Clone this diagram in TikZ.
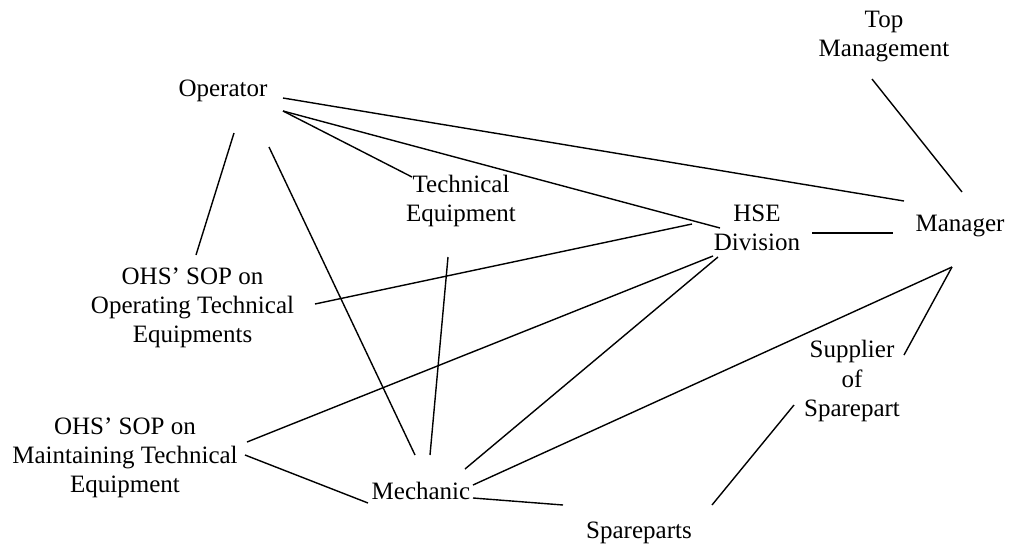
\documentclass[tikz,border=0pt]{standalone}
\usepackage{fontspec}
\setmainfont{Liberation Serif}
\begin{document}
\begin{tikzpicture}[x=0.5pt,y=-0.5pt,
  label/.style={inner sep=0pt, align=center, font={\fontsize{12.5pt}{14.6pt}\selectfont}},
  link/.style={line width=0.7pt, black}]
\useasboundingbox (0,0) rectangle (1009,547);

% actors and documents
\node[label] (top)   at (884,36.5) {Top\\Management};
\node[label] (op)    at (223,91)   {Operator};
\node[label] (te)    at (461,201)  {Technical\\Equipment};
\node[label] (hse)   at (757,228)  {HSE\\Division};
\node[label] (man)   at (960,226)  {Manager};
\node[label] (sopop) at (192.5,308) {OHS’ SOP on\\Operating Technical\\Equipments};
\node[label] (sopmt) at (125,458)  {OHS’ SOP on\\Maintaining Technical\\Equipment};
\node[label] (mech)  at (421,491)  {Mechanic};
\node[label] (spare) at (639,533)  {Spareparts};
\node[label] (sup)   at (852,381)  {Supplier\\of\\Sparepart};

% connector end points around each label
\coordinate (op-a)  at (283,98);
\coordinate (op-b)  at (283,111);
\coordinate (op-c)  at (234,133);
\coordinate (op-d)  at (269,147);
\coordinate (man-a) at (904,201);
\coordinate (man-b) at (893,233);
\coordinate (man-c) at (962,192);
\coordinate (man-d) at (952,267);
\coordinate (hse-a) at (720,228);
\coordinate (hse-b) at (692,224);
\coordinate (hse-c) at (812,233);
\coordinate (hse-d) at (713,256);
\coordinate (hse-e) at (718,257);
\coordinate (te-a)  at (412,177);
\coordinate (te-b)  at (448,257);
\coordinate (top-a) at (872,79);
\coordinate (sopop-a) at (196,255);
\coordinate (sopop-b) at (315,304);
\coordinate (sopmt-a) at (247,442);
\coordinate (sopmt-b) at (245,455);
\coordinate (mech-a) at (415,455);
\coordinate (mech-b) at (430,455);
\coordinate (mech-c) at (465,469);
\coordinate (mech-d) at (473,485);
\coordinate (mech-e) at (473,498);
\coordinate (mech-f) at (368,503);
\coordinate (spare-a) at (563,505);
\coordinate (spare-b) at (712,505);
\coordinate (sup-a) at (904,355);
\coordinate (sup-b) at (794,405);

% relations
\draw[link] (op-a) -- (man-a);
\draw[link] (op-b) -- (hse-a);
\draw[link] (op-b) -- (te-a);
\draw[link] (op-c) -- (sopop-a);
\draw[link] (op-d) -- (mech-a);
\draw[link] (te-b) -- (mech-b);
\draw[link] (sopop-b) -- (hse-b);
\draw[link] (sopmt-a) -- (hse-d);
\draw[link] (sopmt-b) -- (mech-f);
\draw[link] (mech-c) -- (hse-e);
\draw[link] (mech-d) -- (man-d);
\draw[link] (mech-e) -- (spare-a);
\draw[link] (hse-c) -- (man-b);
\draw[link] (top-a) -- (man-c);
\draw[link] (man-d) -- (sup-a);
\draw[link] (sup-b) -- (spare-b);
\end{tikzpicture}
\end{document}
